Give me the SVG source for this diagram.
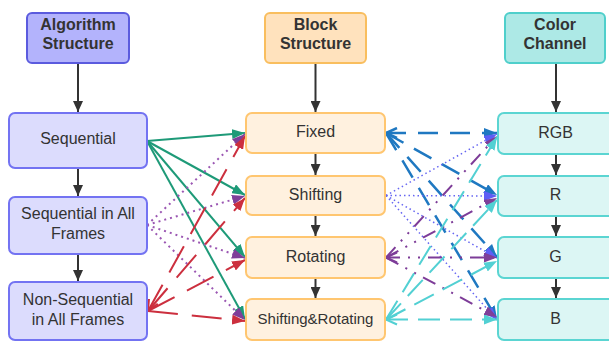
<svg xmlns="http://www.w3.org/2000/svg" width="609" height="345" viewBox="0 0 609 345">
<style>
  .hdr text{font-family:"Liberation Sans",Arial,sans-serif;font-weight:bold;font-size:16px;fill:#333;text-anchor:middle}
  .nd text{font-family:"Liberation Sans",Arial,sans-serif;font-size:16px;fill:#333;text-anchor:middle}
  .alg rect{fill:#dcdcfd;stroke:#7373f2;stroke-width:2}
  .blk rect{fill:#fff1df;stroke:#ffc670;stroke-width:2}
  .col rect{fill:#dcf6f4;stroke:#5bd5d2;stroke-width:2}
  .blk-line{stroke:#333;stroke-width:2;fill:none}
  .c{fill:none}
  .green{stroke:#1e9a78;stroke-width:2}
  .pdot{stroke:#9b57b3;stroke-width:2;stroke-dasharray:2,4}
  .red{stroke:#cc2f3e;stroke-width:2;stroke-dasharray:30,14}
  .bdash{stroke:#1f78c1;stroke-width:2.5;stroke-dasharray:20,12}
  .bdot{stroke:#6666f2;stroke-width:1.5;stroke-dasharray:1.5,3}
  .pdd{stroke:#7d3c98;stroke-width:2;stroke-dasharray:14,8,2,8,2,8}
  .cyan{stroke:#52d0d3;stroke-width:2;stroke-dasharray:22,10}
</style>
<defs>
  <marker id="aBlack" markerUnits="userSpaceOnUse" markerWidth="12" markerHeight="10" refX="11" refY="5" orient="auto"><path d="M0,0 L11,5 L0,10 z" fill="#333"/></marker>
  <marker id="aGreen" markerUnits="userSpaceOnUse" markerWidth="14" markerHeight="10" refX="13" refY="5" orient="auto"><path d="M0,0 L13,5 L0,10 z" fill="#1e9a78"/></marker>
  <marker id="aPurple" markerUnits="userSpaceOnUse" markerWidth="14" markerHeight="10" refX="13" refY="5" orient="auto"><path d="M0,0 L13,5 L0,10 z" fill="#7f3f99"/></marker>
  <marker id="aRed" markerUnits="userSpaceOnUse" markerWidth="14" markerHeight="10" refX="13" refY="5" orient="auto"><path d="M0,0 L13,5 L0,10 z" fill="#cc2f3e"/></marker>
  <marker id="aBlue" markerUnits="userSpaceOnUse" markerWidth="14" markerHeight="10" refX="13" refY="5" orient="auto"><path d="M0,0 L13,5 L0,10 z" fill="#1f78c1"/></marker>
  <marker id="aViolet" markerUnits="userSpaceOnUse" markerWidth="14" markerHeight="10" refX="13" refY="5" orient="auto"><path d="M0,0 L13,5 L0,10 z" fill="#5e5ef5"/></marker>
  <marker id="aCyan" markerUnits="userSpaceOnUse" markerWidth="14" markerHeight="10" refX="13" refY="5" orient="auto"><path d="M0,0 L13,5 L0,10 z" fill="#52d0d3"/></marker>
  <marker id="sRed" markerUnits="userSpaceOnUse" markerWidth="14" markerHeight="12" refX="12" refY="6" orient="auto-start-reverse"><path d="M1,1 L12,6 L1,11" fill="none" stroke="#cc2f3e" stroke-width="2"/></marker>
  <marker id="sBlue" markerUnits="userSpaceOnUse" markerWidth="14" markerHeight="12" refX="12" refY="6" orient="auto-start-reverse"><path d="M1,1 L12,6 L1,11" fill="none" stroke="#1f78c1" stroke-width="2.5"/></marker>
  <marker id="sPurple" markerUnits="userSpaceOnUse" markerWidth="14" markerHeight="12" refX="12" refY="6" orient="auto-start-reverse"><path d="M1,1 L12,6 L1,11" fill="none" stroke="#7d3c98" stroke-width="2"/></marker>
  <marker id="sCyan" markerUnits="userSpaceOnUse" markerWidth="14" markerHeight="12" refX="12" refY="6" orient="auto-start-reverse"><path d="M1,1 L12,6 L1,11" fill="none" stroke="#52d0d3" stroke-width="2"/></marker>
</defs>

<g id="connectors">
  <line class="blk-line" x1="78" y1="63" x2="78" y2="112" marker-end="url(#aBlack)"/>
  <line class="blk-line" x1="78" y1="168" x2="78" y2="196" marker-end="url(#aBlack)"/>
  <line class="blk-line" x1="78" y1="254" x2="78" y2="281" marker-end="url(#aBlack)"/>
  <line class="blk-line" x1="315.5" y1="63" x2="315.5" y2="112" marker-end="url(#aBlack)"/>
  <line class="blk-line" x1="315.5" y1="153" x2="315.5" y2="175" marker-end="url(#aBlack)"/>
  <line class="blk-line" x1="315.5" y1="215" x2="315.5" y2="236" marker-end="url(#aBlack)"/>
  <line class="blk-line" x1="315.5" y1="278" x2="315.5" y2="298" marker-end="url(#aBlack)"/>
  <line class="blk-line" x1="556" y1="63" x2="556" y2="112" marker-end="url(#aBlack)"/>
  <line class="blk-line" x1="556" y1="154" x2="556" y2="175" marker-end="url(#aBlack)"/>
  <line class="blk-line" x1="556" y1="216" x2="556" y2="236" marker-end="url(#aBlack)"/>
  <line class="blk-line" x1="556" y1="278" x2="556" y2="298" marker-end="url(#aBlack)"/>

  <line class="c green" x1="147" y1="141" x2="245" y2="133" marker-end="url(#aGreen)"/>
  <line class="c green" x1="147" y1="141" x2="245" y2="195" marker-end="url(#aGreen)"/>
  <line class="c green" x1="147" y1="141" x2="245" y2="257" marker-end="url(#aGreen)"/>
  <line class="c green" x1="147" y1="141" x2="245" y2="319" marker-end="url(#aGreen)"/>

  <line class="c pdot" x1="147" y1="225" x2="245" y2="134" marker-end="url(#aPurple)"/>
  <line class="c pdot" x1="147" y1="225" x2="245" y2="196" marker-end="url(#aPurple)"/>
  <line class="c pdot" x1="147" y1="225" x2="245" y2="258" marker-end="url(#aPurple)"/>
  <line class="c pdot" x1="147" y1="225" x2="245" y2="320" marker-end="url(#aPurple)"/>

  <line class="c red" x1="148" y1="311" x2="245" y2="136" marker-start="url(#sRed)" marker-end="url(#aRed)"/>
  <line class="c red" x1="148" y1="311" x2="245" y2="198" marker-end="url(#aRed)"/>
  <line class="c red" x1="148" y1="311" x2="245" y2="260" marker-end="url(#aRed)"/>
  <line class="c red" x1="148" y1="311" x2="245" y2="321" marker-end="url(#aRed)"/>

  <line class="c bdash" x1="386" y1="133" x2="497" y2="133" marker-start="url(#sBlue)" marker-end="url(#aBlue)"/>
  <line class="c bdash" x1="386" y1="133" x2="497" y2="195" marker-end="url(#aBlue)"/>
  <line class="c bdash" x1="386" y1="133" x2="497" y2="257" marker-end="url(#aBlue)"/>
  <line class="c bdash" x1="386" y1="133" x2="497" y2="319" marker-end="url(#aBlue)"/>

  <line class="c bdot" x1="386" y1="195.5" x2="497" y2="134" marker-end="url(#aViolet)"/>
  <line class="c bdot" x1="386" y1="195.5" x2="497" y2="196" marker-end="url(#aViolet)"/>
  <line class="c bdot" x1="386" y1="195.5" x2="497" y2="258" marker-end="url(#aViolet)"/>
  <line class="c bdot" x1="386" y1="195.5" x2="497" y2="320" marker-end="url(#aViolet)"/>

  <line class="c pdd" x1="386" y1="257.5" x2="497" y2="136" marker-end="url(#aPurple)"/>
  <line class="c pdd" x1="386" y1="257.5" x2="497" y2="198" marker-end="url(#aPurple)"/>
  <line class="c pdd" x1="386" y1="257.5" x2="497" y2="257.5" marker-start="url(#sPurple)" marker-end="url(#aPurple)"/>
  <line class="c pdd" x1="386" y1="257.5" x2="497" y2="317" marker-end="url(#aPurple)"/>

  <line class="c cyan" x1="386" y1="319.5" x2="497" y2="137" marker-end="url(#aCyan)"/>
  <line class="c cyan" x1="386" y1="319.5" x2="497" y2="200" marker-end="url(#aCyan)"/>
  <line class="c cyan" x1="386" y1="319.5" x2="497" y2="261" marker-end="url(#aCyan)"/>
  <line class="c cyan" x1="386" y1="319.5" x2="497" y2="319.5" marker-start="url(#sCyan)" marker-end="url(#aCyan)"/>
</g>

<g id="algorithm-structure" class="hdr">
  <rect x="27" y="13" width="102" height="50" rx="5" fill="#b3b3fc" stroke="#5b5bde" stroke-width="2"/>
  <text x="78" y="29.5">Algorithm</text>
  <text x="78" y="49">Structure</text>
</g>
<g id="block-structure" class="hdr">
  <rect x="265" y="13" width="101" height="50" rx="5" fill="#ffe2bd" stroke="#f9be5e" stroke-width="2"/>
  <text x="315.5" y="29.5">Block</text>
  <text x="315.5" y="49">Structure</text>
</g>
<g id="color-channel" class="hdr">
  <rect x="505" y="13" width="100" height="50" rx="5" fill="#ade9e6" stroke="#4fcfcb" stroke-width="2"/>
  <text x="555" y="29.5">Color</text>
  <text x="555" y="49">Channel</text>
</g>

<g id="sequential" class="nd alg">
  <rect x="9" y="113" width="138" height="55" rx="6"/>
  <text x="78" y="144">Sequential</text>
</g>
<g id="sequential-all-frames" class="nd alg">
  <rect x="9" y="197" width="138" height="57" rx="6"/>
  <text x="78" y="219">Sequential in All</text>
  <text x="78" y="238.5">Frames</text>
</g>
<g id="non-sequential" class="nd alg">
  <rect x="9" y="282" width="138" height="58" rx="6"/>
  <text x="78" y="305">Non-Sequential</text>
  <text x="78" y="325">in All Frames</text>
</g>

<g id="fixed" class="nd blk">
  <rect x="246" y="113" width="139" height="40" rx="6"/>
  <text x="315.5" y="137">Fixed</text>
</g>
<g id="shifting" class="nd blk">
  <rect x="246" y="176" width="139" height="39" rx="6"/>
  <text x="315.5" y="199.5">Shifting</text>
</g>
<g id="rotating" class="nd blk">
  <rect x="246" y="237" width="139" height="41" rx="6"/>
  <text x="315.5" y="261.5">Rotating</text>
</g>
<g id="shifting-rotating" class="nd blk">
  <rect x="246" y="299" width="139" height="41" rx="6"/>
  <text x="315.5" y="324" style="font-size:15px">Shifting&amp;Rotating</text>
</g>

<g id="rgb" class="nd col">
  <rect x="498" y="113" width="116" height="41" rx="6"/>
  <text x="555.5" y="137.5">RGB</text>
</g>
<g id="r" class="nd col">
  <rect x="498" y="176" width="116" height="40" rx="6"/>
  <text x="555.5" y="199.5">R</text>
</g>
<g id="g" class="nd col">
  <rect x="498" y="237" width="116" height="41" rx="6"/>
  <text x="555.5" y="261.5">G</text>
</g>
<g id="b" class="nd col">
  <rect x="498" y="299" width="116" height="41" rx="6"/>
  <text x="555.5" y="323.5">B</text>
</g>
</svg>
